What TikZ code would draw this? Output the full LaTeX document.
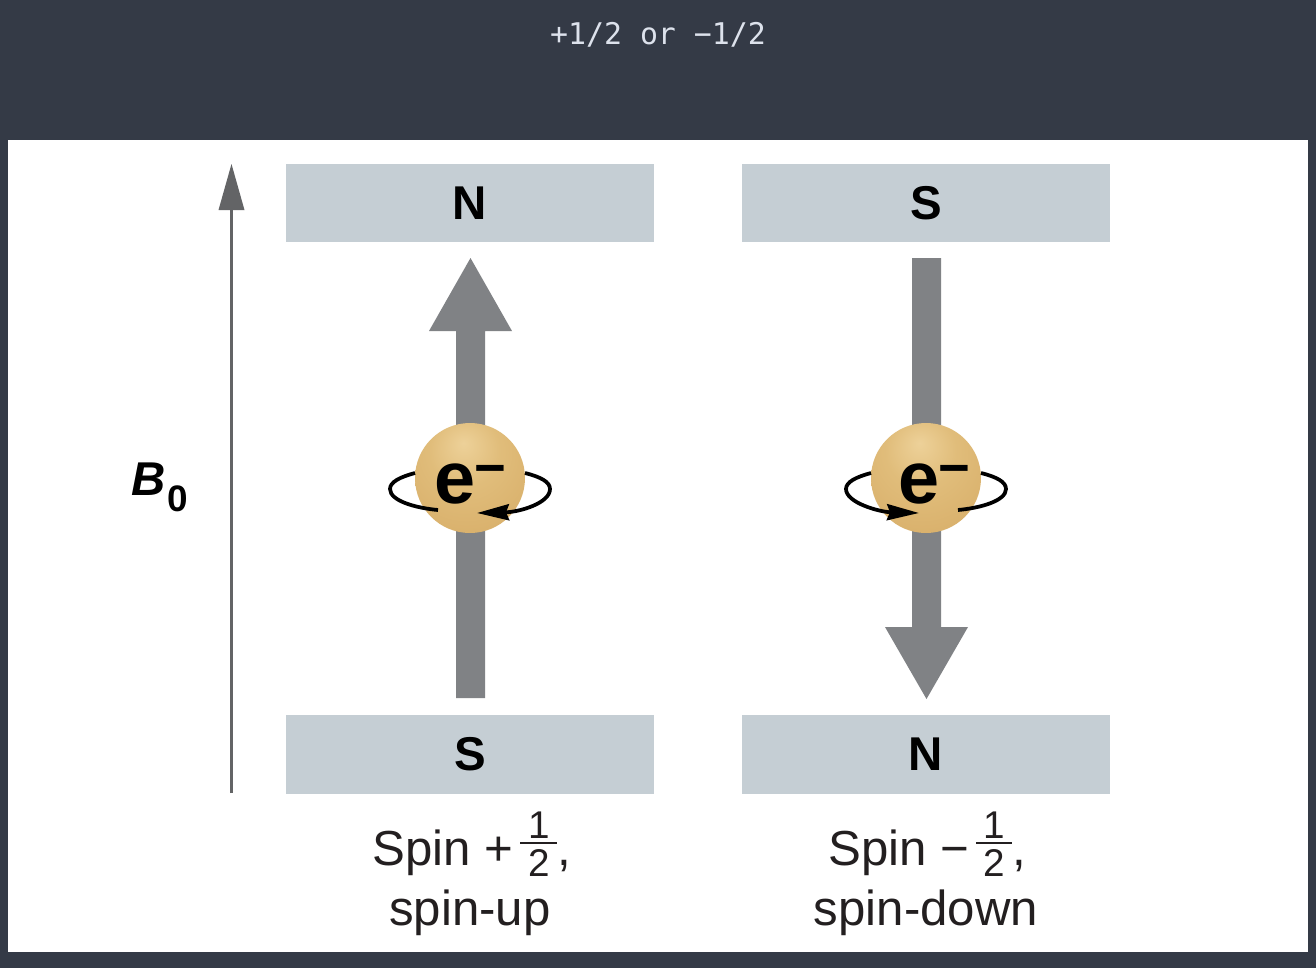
\documentclass[tikz,border=0pt]{standalone}
\usepackage{fontspec}
\setmainfont{Liberation Sans}
\newfontfamily\capmono{DejaVu Sans Mono}
\usetikzlibrary{arrows.meta}
\definecolor{slatebg}{HTML}{343A46}
\definecolor{captiontext}{HTML}{DDE2EC}
\definecolor{polebox}{HTML}{C5CED4}
\definecolor{spinarrow}{HTML}{808285}
\definecolor{fieldarrow}{HTML}{636466}
\definecolor{labeltext}{HTML}{231F20}
\pgfdeclareradialshading{electronglow}{\pgfpoint{-3bp}{16bp}}{
  rgb(0bp)=(0.93,0.82,0.60);
  rgb(16bp)=(0.88,0.74,0.48);
  rgb(36bp)=(0.85,0.69,0.42);
  rgb(54bp)=(0.80,0.64,0.37);
  rgb(70bp)=(0.78,0.62,0.35)}
\tikzset{
  polelabel/.style={draw=none,fill=polebox,minimum width=7.36cm,minimum height=1.57cm,inner sep=0pt,text=black,font=\fontsize{27}{27}\selectfont\bfseries},
  electron/.style={circle,shading=electronglow,minimum size=2.2cm,inner sep=0pt},
  spinring/.style={black,line width=0.075cm},
  echar/.style={anchor=base,inner sep=0pt,text=black,font=\fontsize{42}{42}\selectfont\bfseries},
  eminus/.style={anchor=base,inner sep=0pt,text=black,font=\fontsize{31}{31}\selectfont\bfseries},
  spintext/.style={anchor=base,inner sep=0pt,text=labeltext,font=\fontsize{28}{28}\selectfont},
  fracdigit/.style={anchor=base,inner sep=0pt,text=labeltext,font=\fontsize{22}{22}\selectfont},
}
\begin{document}
\begin{tikzpicture}[x=0.02cm,y=-0.02cm]
    \useasboundingbox (0,0) rectangle (1316,968);
    \fill[slatebg] (0,0) rectangle (1316,968);
    \fill[white] (8,140) rectangle (1308,952);
    \node[inner sep=0pt,text=captiontext,font=\capmono\fontsize{17}{17}\selectfont] (caption) at (658,35){+1/2 or −1/2};

    \node[polelabel] (topleft) at (470,203){N};
    \node[polelabel] (topright) at (926,203){S};
    \node[polelabel] (botleft) at (470,754.5){S};
    \node[polelabel] (botright) at (926,754.5){N};

    \draw[fieldarrow,line width=0.06cm] (231.5,793) -- (231.5,205);
    \fill[fieldarrow] (231.5,164) -- (244.5,210) -- (218.5,210) -- cycle;
    \node[anchor=base west,inner sep=0pt,text=black,font=\fontsize{27}{27}\selectfont\bfseries\itshape] (bfield) at (131,495){B};
    \node[anchor=base west,inner sep=0pt,text=black,font=\fontsize{21}{21}\selectfont\bfseries] (bsub) at (167,511){0};

    \fill[spinarrow] (456,698) -- (485,698) -- (485,331) -- (512,331) -- (470.5,258) -- (429,331) -- (456,331) -- cycle;
    \fill[spinarrow] (912,258) -- (941,258) -- (941,627) -- (968,627) -- (926.5,699) -- (885,627) -- (912,627) -- cycle;

    \node[electron] (eleft) at (470,478){};
    \node[electron] (eright) at (926,478){};
    \node[echar] (eleftchar) at (455,503){e};
    \node[echar] (erightchar) at (919,503){e};
    \node[eminus] (eleftminus) at (490,486){−};
    \node[eminus] (erightminus) at (954,486){−};

    \draw[spinring] (415,473) .. controls (400,477) and (390,482) .. (390,489) .. controls (390,501) and (416,508) .. (438,510);
    \draw[spinring,-{Stealth[length=0.64cm,width=0.32cm,inset=0.06cm]}] (525,473) .. controls (541,477) and (550,482) .. (550,489) .. controls (550,503) and (520,512) .. (477,513);
    \draw[spinring,-{Stealth[length=0.64cm,width=0.32cm,inset=0.06cm]}] (871,473) .. controls (856,477) and (846,482) .. (846,489) .. controls (846,503) and (880,512) .. (919,513);
    \draw[spinring] (981,473) .. controls (997,477) and (1006,482) .. (1006,489) .. controls (1006,501) and (980,508) .. (958,510);

    \node[spintext,anchor=base west] (spinup) at (372,865){Spin +};
    \node[fracdigit] (upnum) at (539,838){1};
    \draw[labeltext,line width=0.05cm] (520,843) -- (557,843);
    \node[fracdigit] (updenom) at (539,876){2};
    \node[spintext,anchor=base west] (upcomma) at (557,865){,};
    \node[spintext] (uptext) at (470,925){spin-up};

    \node[spintext,anchor=base west] (spindown) at (828,865){Spin −};
    \node[fracdigit] (downnum) at (994,838){1};
    \draw[labeltext,line width=0.05cm] (976,843) -- (1012,843);
    \node[fracdigit] (downdenom) at (994,876){2};
    \node[spintext,anchor=base west] (downcomma) at (1012,865){,};
    \node[spintext] (downtext) at (926,925){spin-down};
  \end{tikzpicture}
\end{document}
